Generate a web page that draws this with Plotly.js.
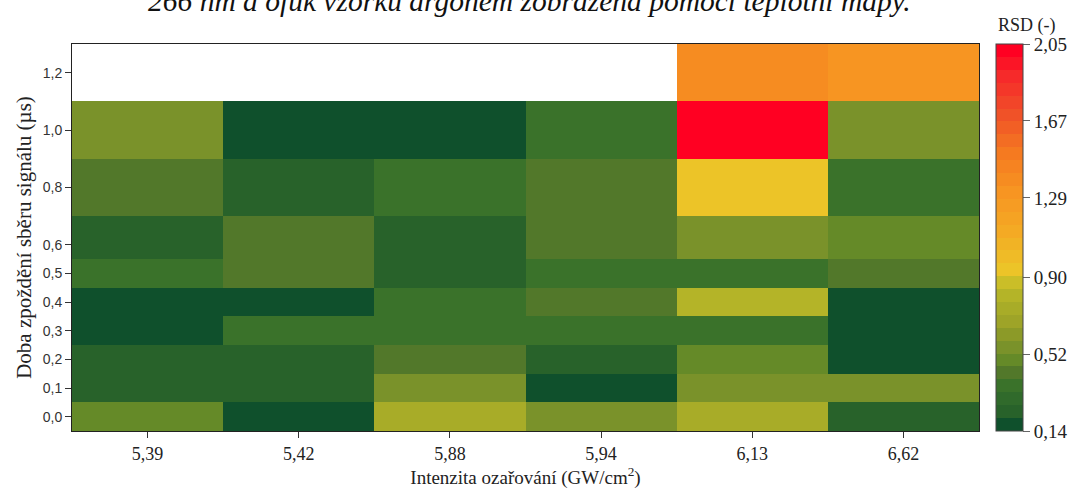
<!DOCTYPE html>
<html><head><meta charset="utf-8">
<script src="https://cdn.plot.ly/plotly-3.0.1.min.js"></script>
<style>body{margin:0;background:#fff}#chart{width:1072px;height:490px}</style>
</head><body><div id="chart"></div>
<script>
// Categories
const intensity = ['5,39','5,42','5,88','5,94','6,13','6,62'];
const delays = [0.0, 0.1, 0.2, 0.3, 0.4, 0.5, 0.6, 0.8, 1.0, 1.2];
const delayTickText = ['0,0','0,1','0,2','0,3','0,4','0,5','0,6','0,8','1,0','1,2'];
// RSD (-) per delay row, columns follow intensity
const rsd_d00 = [0.49, 0.17, 0.74, 0.55, 0.74, 0.24];
const rsd_d01 = [0.24, 0.24, 0.55, 0.17, 0.55, 0.55];
const rsd_d02 = [0.24, 0.24, 0.43, 0.24, 0.49, 0.17];
const rsd_d03 = [0.17, 0.36, 0.36, 0.36, 0.36, 0.17];
const rsd_d04 = [0.17, 0.17, 0.36, 0.43, 0.81, 0.17];
const rsd_d05 = [0.36, 0.43, 0.24, 0.36, 0.36, 0.43];
const rsd_d06 = [0.24, 0.43, 0.24, 0.43, 0.55, 0.49];
const rsd_d08 = [0.43, 0.24, 0.36, 0.43, 0.93, 0.36];
const rsd_d10 = [0.55, 0.17, 0.17, 0.36, 2.05, 0.55];
const rsd_d12 = [null, null, null, null, 1.40, 1.30];
const cbTickVals = [0.14, 0.52, 0.90, 1.29, 1.67, 2.05];
const cbTickText = ['0,14', '0,52', '0,90', '1,29', '1,67', '2,05'];

const z = [rsd_d00, rsd_d01, rsd_d02, rsd_d03, rsd_d04, rsd_d05, rsd_d06, rsd_d08, rsd_d10, rsd_d12];

// discrete colour levels (style)
const NLEV = 30;
const anchors = [[0,'#0f502c'],[1,'#28622a'],[2,'#306a2b'],[3,'#3a722a'],[4,'#52782a'],[5,'#658a28'],
  [6,'#7a922a'],[7,'#8c9a28'],[8,'#9ea428'],[9,'#a8ac28'],[10,'#b4b428'],[11,'#cabe28'],[12,'#ecc428'],
  [15,'#f4aa24'],[18,'#f79522'],[21,'#f57a20'],[24,'#f05228'],[27,'#f62a2a'],[29,'#ff0022']];
function hex2rgb(h){return [parseInt(h.slice(1,3),16),parseInt(h.slice(3,5),16),parseInt(h.slice(5,7),16)];}
function levelColor(i){
  for(let k=0;k<anchors.length-1;k++){
    const [a,ca]=anchors[k],[b,cb]=anchors[k+1];
    if(i>=a && i<=b){
      const t=(i-a)/(b-a), A=hex2rgb(ca), B=hex2rgb(cb);
      return 'rgb('+A.map((v,j)=>Math.round(v+(B[j]-v)*t)).join(',')+')';
    }
  }
  return anchors[anchors.length-1][1];
}
const colorscale=[];
for(let i=0;i<NLEV;i++){const c=levelColor(i);colorscale.push([i/NLEV,c]);colorscale.push([(i+1)/NLEV,c]);}

const serif = 'Liberation Serif';
const sans = 'Liberation Sans';

const trace = {
  type:'heatmap', x:intensity, y:delays, z:z,
  zmin:0.14, zmax:2.05, colorscale:colorscale, hoverongaps:false,
  xgap:0, ygap:0,
  colorbar:{
    x:1.0187, xanchor:'left', xpad:0, y:0.5, yanchor:'middle', len:1, lenmode:'fraction', ypad:0,
    thickness:27, outlinewidth:1, outlinecolor:'#444',
    tickmode:'array', tickvals:cbTickVals, ticktext:cbTickText,
    ticks:'outside', ticklen:7, tickcolor:'#666',
    tickfont:{family:serif, size:19, color:'#222'}
  }
};

const layout = {
  width:1072, height:490,
  margin:{l:72, r:93, t:44, b:59, autoexpand:false},
  paper_bgcolor:'#fff', plot_bgcolor:'#fff',
  xaxis:{
    type:'category', showline:true, mirror:true, linecolor:'#222', linewidth:1,
    ticks:'outside', ticklen:6, tickcolor:'#333', showgrid:false, zeroline:false,
    tickfont:{family:serif, size:18, color:'#222'},
    title:{text:'Intenzita ozařování (GW/cm<sup>2</sup>)', font:{family:serif, size:19, color:'#222'}, standoff:2}
  },
  yaxis:{
    range:[-0.05,1.3], showline:true, mirror:true, linecolor:'#222', linewidth:1,
    ticks:'outside', ticklen:6, tickcolor:'#333', showgrid:false, zeroline:false,
    tickmode:'array', tickvals:delays, ticktext:delayTickText,
    tickfont:{family:sans, size:14, color:'#333'},
    title:{text:'Doba zpoždění sběru signálu (µs)', font:{family:serif, size:21, color:'#222'}, standoff:5}
  },
  annotations:[
    {text:'266 nm a ofuk vzorku argonem zobrazená pomocí teplotní mapy.', xref:'paper', yref:'paper',
     x:0.504, y:1.065, xanchor:'center', yanchor:'bottom', showarrow:false,
     font:{family:serif, size:29.5, color:'#111', style:'italic'}},
    {text:'RSD (-)', xref:'paper', yref:'paper', x:1.0187, y:1.015, xanchor:'left', yanchor:'bottom',
     showarrow:false, font:{family:serif, size:18, color:'#222'}}
  ]
};

Plotly.newPlot('chart',[trace],layout,{displayModeBar:false, staticPlot:true});
</script>
</body></html>
